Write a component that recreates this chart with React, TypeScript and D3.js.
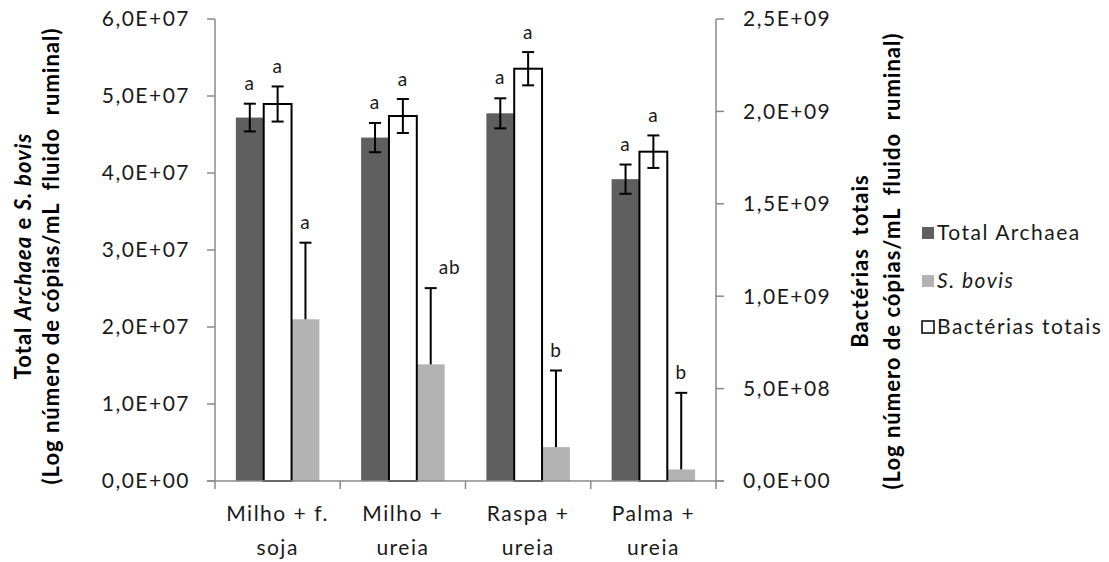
import React from "react";
import * as d3 from "d3";

const categories: string[][] = [
  ["Milho + f.", "soja"],
  ["Milho +", "ureia"],
  ["Raspa +", "ureia"],
  ["Palma +", "ureia"],
];
const archaea = [4.72e7, 4.46e7, 4.775e7, 3.92e7];
const archaeaErr = [0.18e7, 0.19e7, 0.195e7, 0.19e7];
const archaeaLetters = ["a", "a", "a", "a"];
const bacteria = [2.04e9, 1.975e9, 2.231e9, 1.782e9];
const bacteriaErr = [0.095e9, 0.092e9, 0.09e9, 0.088e9];
const bacteriaLetters = ["a", "a", "a", "a"];
const sbovis = [2.1e7, 1.515e7, 0.44e7, 0.15e7];
const sbovisErr = [0.995e7, 0.99e7, 0.995e7, 0.995e7];
const sbovisLetters = ["a", "ab", "b", "b"];
const leftTicks = [0, 1e7, 2e7, 3e7, 4e7, 5e7, 6e7];
const rightTicks = [0, 5e8, 1e9, 1.5e9, 2e9, 2.5e9];
const seriesOrder = ["archaea", "bacteria", "sbovis"];

const W = 1109;
const H = 562;
const X0 = 215, X1 = 716, Y0 = 19, Y1 = 481;
const FONT = "Lato, 'Open Sans', sans-serif";
const TXT = "#1a1a1a";
const AXIS = "#8a8a8a";
const DARK = "#5f5f5f";
const LIGHT = "#b3b3b3";
const LS = 1.5;

function fmtE(v: number): string {
  if (v === 0) return "0,0E+00";
  const e = Math.floor(Math.log10(v) + 1e-9);
  const m = v / Math.pow(10, e);
  return `${m.toFixed(1).replace(".", ",")}E+${String(e).padStart(2, "0")}`;
}

export default function App() {
  const catKeys = categories.map((c) => c.join(" "));
  const x0 = d3.scaleBand<string>().domain(catKeys).range([X0, X1]).padding(0);
  const x1 = d3
    .scaleBand<string>()
    .domain(seriesOrder)
    .range([0, x0.bandwidth()])
    .paddingInner(0)
    .paddingOuter(0.75);
  const yL = d3.scaleLinear().domain([0, 6e7]).range([Y1, Y0]);
  const yR = d3.scaleLinear().domain([0, 2.5e9]).range([Y1, Y0]);
  const bw = x1.bandwidth();
  const cap = 6;

  const errBar = (cx: number, top: number, bot: number, key: string, lowerCap = true) => (
    <g key={key} stroke="#000" strokeWidth={2}>
      <line x1={cx} x2={cx} y1={top} y2={bot} />
      <line x1={cx - cap} x2={cx + cap} y1={top} y2={top} />
      {lowerCap && <line x1={cx - cap} x2={cx + cap} y1={bot} y2={bot} />}
    </g>
  );

  const letter = (cx: number, y: number, t: string, key: string) => (
    <text key={key} x={cx} y={y} textAnchor="middle" fontSize={19} fill={TXT} fontFamily={FONT} letterSpacing={1}>
      {t}
    </text>
  );

  const pre = { whiteSpace: "pre" as const };

  return (
    <svg width={W} height={H} style={{ display: "block", position: "absolute", left: 0, top: 0, background: "#fff" }}>
      <rect x={0} y={0} width={W} height={H} fill="#fff" />
      {catKeys.map((k, i) => {
        const base = x0(k)!;
        const xa = base + x1("archaea")!;
        const xb = base + x1("bacteria")!;
        const xs = base + x1("sbovis")!;
        const ca = xa + bw / 2, cb = xb + bw / 2, cs = xs + bw / 2;
        const aTop = yL(archaea[i] + archaeaErr[i]);
        const bTop = yR(bacteria[i] + bacteriaErr[i]);
        const sTop = yL(sbovis[i] + sbovisErr[i]);
        return (
          <g key={k}>
            <rect x={xa} y={yL(archaea[i])} width={bw} height={Y1 - yL(archaea[i])} fill={DARK} />
            <rect x={xs} y={yL(sbovis[i])} width={bw} height={Y1 - yL(sbovis[i])} fill={LIGHT} />
            <rect x={xb} y={yR(bacteria[i])} width={bw} height={Y1 - yR(bacteria[i])} fill="#fff" stroke="#000" strokeWidth={2} />
            {errBar(ca, aTop, yL(archaea[i] - archaeaErr[i]), "ea")}
            {errBar(cb, bTop, yR(bacteria[i] - bacteriaErr[i]), "eb")}
            {errBar(cs, sTop, yL(sbovis[i]), "es", false)}
            {letter(ca, aTop - 14, archaeaLetters[i], "la")}
            {letter(cb, bTop - 13, bacteriaLetters[i], "lb")}
            {letter(cs + (sbovisLetters[i].length > 1 ? 19 : 0), sTop - 14, sbovisLetters[i], "ls")}
          </g>
        );
      })}
      <g stroke={AXIS} strokeWidth={1.5}>
        <line x1={X0} x2={X0} y1={Y0} y2={Y1} />
        <line x1={X1} x2={X1} y1={Y0} y2={Y1} />
        <line x1={X0 - 8} x2={X1 + 8} y1={Y1} y2={Y1} />
        {leftTicks.map((t) => (
          <line key={"lt" + t} x1={X0 - 8} x2={X0} y1={yL(t)} y2={yL(t)} />
        ))}
        {rightTicks.map((t) => (
          <line key={"rt" + t} x1={X1} x2={X1 + 8} y1={yR(t)} y2={yR(t)} />
        ))}
        {catKeys.map((k) => (
          <line key={"xt" + k} x1={x0(k)!} x2={x0(k)!} y1={Y1} y2={Y1 + 8} />
        ))}
        <line x1={X1} x2={X1} y1={Y1} y2={Y1 + 8} />
      </g>
      {leftTicks.map((t) => (
        <text key={"ll" + t} x={190} y={yL(t)} dy="0.35em" textAnchor="end" fontSize={21} fill={TXT} fontFamily={FONT} letterSpacing={LS}>
          {fmtE(t)}
        </text>
      ))}
      {rightTicks.map((t) => (
        <text key={"rl" + t} x={743} y={yR(t)} dy="0.35em" textAnchor="start" fontSize={21} fill={TXT} fontFamily={FONT} letterSpacing={LS}>
          {fmtE(t)}
        </text>
      ))}
      {catKeys.map((k, i) => (
        <text key={"cl" + k} textAnchor="middle" fontSize={21} fill={TXT} fontFamily={FONT} letterSpacing={LS}>
          <tspan x={x0(k)! + x0.bandwidth() / 2} y={521}>{categories[i][0]}</tspan>
          <tspan x={x0(k)! + x0.bandwidth() / 2} y={555}>{categories[i][1]}</tspan>
        </text>
      ))}
      <g transform="translate(31,256) rotate(-90)" fontFamily={FONT} fontWeight="bold" fontSize={22} fill="#000" letterSpacing={1}>
        <text x={0} y={0} textAnchor="middle" xmlSpace="preserve" style={pre}>
          Total <tspan fontStyle="italic">Archaea</tspan> e <tspan fontStyle="italic">S. bovis</tspan>
        </text>
        <text x={0} y={28} textAnchor="middle" xmlSpace="preserve" style={pre}>{"(Log número de cópias/mL  fluido  ruminal)"}</text>
      </g>
      <g transform="translate(868,261) rotate(-90)" fontFamily={FONT} fontWeight="bold" fontSize={22} fill="#000" letterSpacing={1}>
        <text x={0} y={0} textAnchor="middle" xmlSpace="preserve" style={pre}>{"Bactérias  totais"}</text>
        <text x={0} y={32} textAnchor="middle" xmlSpace="preserve" style={pre}>{"(Log número de cópias/mL  fluido  ruminal)"}</text>
      </g>
      <g fontFamily={FONT} fontSize={21} fill={TXT} letterSpacing={LS}>
        <rect x={922} y={227} width={12} height={12} fill={DARK} />
        <text x={937} y={233} dy="0.35em">Total Archaea</text>
        <rect x={922} y={275} width={12} height={12} fill={LIGHT} />
        <text x={937} y={281} dy="0.35em" fontStyle="italic">S. bovis</text>
        <rect x={922} y={321} width={12} height={12} fill="#fff" stroke="#000" strokeWidth={1.5} />
        <text x={937} y={327} dy="0.35em">Bactérias totais</text>
      </g>
    </svg>
  );
}
